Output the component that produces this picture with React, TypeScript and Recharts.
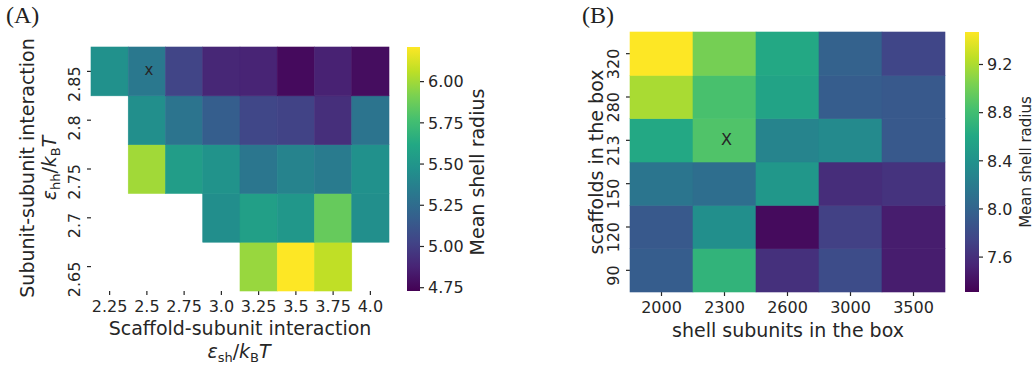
import { ScatterChart, Scatter, XAxis, YAxis, BarChart, Bar } from 'recharts';

const FONT = "'DejaVu Sans', sans-serif";
const SERIF = "'Liberation Serif', 'DejaVu Serif', serif";
const INK = '#262626';
const TICK_FS = 16;

// viridis sampled at 0, 0.1, ... 1
const VIRIDIS = [
  '#440154', '#482475', '#414487', '#355f8d', '#2a788e', '#21918c',
  '#22a884', '#44bf70', '#7ad151', '#bddf26', '#fde725',
];

// (A) interaction strengths; rows listed bottom -> top
const epsShLabels = ['2.25', '2.5', '2.75', '3.0', '3.25', '3.5', '3.75', '4.0'];
const epsHhLabels = ['2.65', '2.7', '2.75', '2.8', '2.85'];
const radiusA: (number | null)[][] = [
  [null, null, null, null, 5.98, 6.21, 6.07, null],
  [null, null, null, 5.45, 5.56, 5.51, 5.86, 5.46],
  [null, 6.0, 5.55, 5.48, 5.31, 5.39, 5.34, 5.47],
  [null, 5.46, 5.3, 5.17, 5.04, 5.02, 4.93, 5.3],
  [5.47, 5.32, 5.03, 4.89, 4.88, 4.77, 4.87, 4.78],
];
const rangeA: [number, number] = [4.73, 6.21];
const cbTicksA = [4.75, 5.0, 5.25, 5.5, 5.75, 6.0];
const markA = [{ x: 1, y: 4 }];

// (B) box composition; rows listed bottom -> top
const subunitLabels = ['2000', '2300', '2600', '3000', '3500'];
const scaffoldLabels = ['90', '120', '150', '213', '280', '320'];
const radiusB: number[][] = [
  [7.94, 8.71, 7.61, 7.81, 7.48],
  [7.91, 8.37, 7.37, 7.72, 7.48],
  [8.15, 8.09, 8.45, 7.59, 7.63],
  [8.61, 8.87, 8.28, 8.33, 7.91],
  [9.19, 8.84, 8.56, 7.94, 7.91],
  [9.47, 9.02, 8.61, 7.98, 7.76],
];
const rangeB: [number, number] = [7.31, 9.47];
const cbTicksB = [7.6, 8.0, 8.4, 8.8, 9.2];
const markB = [{ x: 1, y: 3 }];

function hex(c: string) {
  return [1, 3, 5].map((i) => parseInt(c.slice(i, i + 2), 16));
}

function viridis(t: number) {
  const u = Math.min(1, Math.max(0, t)) * 10;
  const i = Math.min(9, Math.floor(u));
  const f = u - i;
  const a = hex(VIRIDIS[i]);
  const b = hex(VIRIDIS[i + 1]);
  const m = a.map((v, k) => Math.round(v + (b[k] - v) * f));
  return `rgb(${m[0]},${m[1]},${m[2]})`;
}

interface HeatmapProps {
  left: number;
  plotLeft: number;
  plotTop: number;
  plotW: number;
  plotH: number;
  colLabels: string[];
  rowLabels: string[];
  grid: (number | null)[][];
  range: [number, number];
  mark: { x: number; y: number }[];
  markText: string;
  markSize: number;
}

function Heatmap(p: HeatmapProps) {
  const nc = p.colLabels.length;
  const nr = p.rowLabels.length;
  const cw = p.plotW / nc;
  const ch = p.plotH / nr;
  const cells: { x: number; y: number; v: number }[] = [];
  p.grid.forEach((row, r) =>
    row.forEach((v, c) => {
      if (v != null) cells.push({ x: c, y: r, v });
    })
  );
  const color = (v: number) => viridis((v - p.range[0]) / (p.range[1] - p.range[0]));
  const H = 371;

  return (
    <div style={{ position: 'absolute', left: p.left, top: 0 }}>
      <ScatterChart
        width={p.plotLeft + p.plotW + 10}
        height={H}
        margin={{ top: p.plotTop, right: 10, bottom: 0, left: 0 }}
      >
        <XAxis
          type="number"
          dataKey="x"
          domain={[-0.5, nc - 0.5]}
          ticks={p.colLabels.map((_, i) => i)}
          interval={0}
          height={H - p.plotTop - p.plotH}
          axisLine={false}
          tickSize={4}
          tickMargin={6}
          tickLine={{ stroke: INK, strokeWidth: 1.2 }}
          tick={(t: any) => (
            <text x={t.x} y={t.y} dy="0.71em" textAnchor="middle" fontSize={TICK_FS} fontFamily={FONT} fill={INK}>
              {p.colLabels[t.payload.value]}
            </text>
          )}
        />
        <YAxis
          type="number"
          dataKey="y"
          domain={[-0.5, nr - 0.5]}
          ticks={p.rowLabels.map((_, i) => i)}
          interval={0}
          width={p.plotLeft}
          axisLine={false}
          tickSize={4}
          tickMargin={7}
          tickLine={{ stroke: INK, strokeWidth: 1.2 }}
          tick={(t: any) => (
            <text
              x={t.x}
              y={t.y - 5}
              transform={`rotate(-90 ${t.x} ${t.y - 5})`}
              textAnchor="end"
              fontSize={TICK_FS}
              fontFamily={FONT}
              fill={INK}
            >
              {p.rowLabels[t.payload.value]}
            </text>
          )}
        />
        <Scatter
          data={cells}
          isAnimationActive={false}
          shape={(s: any) => {
            const fill = color(s.payload.v);
            return (
              <rect
                x={s.cx - cw / 2}
                y={s.cy - ch / 2}
                width={cw}
                height={ch}
                fill={fill}
                stroke={fill}
                strokeWidth={0.6}
              />
            );
          }}
        />
        <Scatter
          data={p.mark}
          isAnimationActive={false}
          shape={(s: any) => (
            <text
              x={s.cx + 2}
              y={s.cy - 1}
              textAnchor="middle"
              dominantBaseline="central"
              fontSize={p.markSize}
              fontFamily={FONT}
              fill={INK}
            >
              {p.markText}
            </text>
          )}
        />
      </ScatterChart>
    </div>
  );
}

interface ColorbarProps {
  id: string;
  left: number;
  top: number;
  barW: number;
  barH: number;
  range: [number, number];
  ticks: number[];
  digits: number;
}

function Colorbar(p: ColorbarProps) {
  const H = 371;
  return (
    <div style={{ position: 'absolute', left: p.left, top: 0 }}>
      <BarChart
        width={p.barW + 60}
        height={H}
        data={[{ k: 'cb', r: p.range }]}
        margin={{ top: p.top, right: 0, bottom: H - p.top - p.barH, left: 0 }}
        barCategoryGap={0}
      >
        <defs>
          <linearGradient id={p.id} x1="0" y1="1" x2="0" y2="0">
            {VIRIDIS.map((c, i) => (
              <stop key={i} offset={i / 10} stopColor={c} />
            ))}
          </linearGradient>
        </defs>
        <XAxis dataKey="k" hide />
        <YAxis
          orientation="right"
          type="number"
          domain={p.range}
          allowDataOverflow
          ticks={p.ticks}
          interval={0}
          width={60}
          axisLine={false}
          tickSize={4}
          tickMargin={4}
          tickLine={{ stroke: INK, strokeWidth: 1.2 }}
          tick={(t: any) => (
            <text x={t.x} y={t.y} dy="0.36em" textAnchor="start" fontSize={TICK_FS} fontFamily={FONT} fill={INK}>
              {Number(t.payload.value).toFixed(p.digits)}
            </text>
          )}
        />
        <Bar dataKey="r" fill={`url(#${p.id})`} isAnimationActive={false} />
      </BarChart>
    </div>
  );
}

// ε_ab / k_B T written with subscripts
function EpsLabel({ sub }: { sub: string }) {
  const s = { fontSize: 13, fontStyle: 'normal' as const };
  return (
    <>
      <tspan fontStyle="italic">ε</tspan>
      <tspan {...s} dy={4}>{sub}</tspan>
      <tspan dy={-4}>/</tspan>
      <tspan fontStyle="italic">k</tspan>
      <tspan {...s} dy={4}>B</tspan>
      <tspan fontStyle="italic" dy={-4}>T</tspan>
    </>
  );
}

export default function App() {
  return (
    <div
      style={{
        position: 'absolute',
        left: 0,
        top: 0,
        width: 1035,
        height: 371,
        background: '#fff',
        overflow: 'hidden',
      }}
    >
      <Heatmap
        left={0}
        plotLeft={91}
        plotTop={47}
        plotW={298}
        plotH={244}
        colLabels={epsShLabels}
        rowLabels={epsHhLabels}
        grid={radiusA}
        range={rangeA}
        mark={markA}
        markText="x"
        markSize={15}
      />
      <Colorbar id="cbA" left={407} top={47} barW={13} barH={244} range={rangeA} ticks={cbTicksA} digits={2} />

      <Heatmap
        left={520}
        plotLeft={110}
        plotTop={32}
        plotW={315}
        plotH={260}
        colLabels={subunitLabels}
        rowLabels={scaffoldLabels}
        grid={radiusB}
        range={rangeB}
        mark={markB}
        markText="X"
        markSize={16}
      />
      <Colorbar id="cbB" left={965} top={32} barW={14} barH={260} range={rangeB} ticks={cbTicksB} digits={1} />

      {/* titles and axis labels */}
      <svg width={1035} height={371} style={{ position: 'absolute', left: 0, top: 0, pointerEvents: 'none' }}>
        <text x={6} y={23} fontSize={24} fontFamily={SERIF} fill="#222">(A)</text>
        <text x={582} y={23} fontSize={24} fontFamily={SERIF} fill="#222">(B)</text>

        <g fontFamily={FONT} fill={INK} fontSize={19}>
          <text transform="rotate(-90 34 168)" x={34} y={168} textAnchor="middle">
            Subunit-subunit interaction
          </text>
          <text transform="rotate(-90 56 168)" x={56} y={168} textAnchor="middle">
            <EpsLabel sub="hh" />
          </text>
          <text x={240} y={335} textAnchor="middle">Scaffold-subunit interaction</text>
          <text x={239} y={358} textAnchor="middle">
            <EpsLabel sub="sh" />
          </text>
          <text transform="rotate(-90 484 172)" x={484} y={172} textAnchor="middle">
            Mean shell radius
          </text>

          <text transform="rotate(-90 603 162)" x={603} y={162} textAnchor="middle">
            scaffolds in the box
          </text>
          <text x={788} y={337} textAnchor="middle">shell subunits in the box</text>
          <text transform="rotate(-90 1031 162)" x={1031} y={162} textAnchor="middle" fontSize={15}>
            Mean shell radius
          </text>
        </g>
      </svg>
    </div>
  );
}
